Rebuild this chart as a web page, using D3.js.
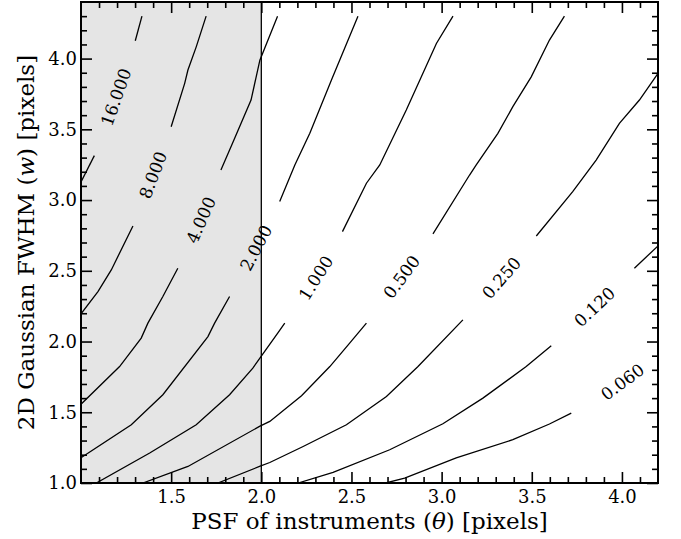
<!DOCTYPE html>
<html>
<head>
<meta charset="utf-8">
<script src="https://cdn.jsdelivr.net/npm/d3@7"></script>
<style>
  body { margin: 0; background: #fff; }
  svg text { font-family: "DejaVu Serif", serif; fill: #000; }
  .contour { fill: none; stroke: #000; stroke-width: 1.3; }
</style>
</head>
<body>
<script>
// axis limits and ticks
const xLimits = [1.0, 4.2];
const yLimits = [1.0, 4.4];
const xTicks = [1.5, 2.0, 2.5, 3.0, 3.5, 4.0];
const yTicks = [1.0, 1.5, 2.0, 2.5, 3.0, 3.5, 4.0];
const shadeEnd = 2.0; // grey band runs from the left edge up to here

// contour levels and where each inline label sits (data coords)
const levels = ["16.000", "8.000", "4.000", "2.000", "1.000", "0.500", "0.250", "0.120", "0.060"];
const labelX = [1.194, 1.399, 1.665, 1.970, 2.302, 2.778, 3.332, 3.848, 4.003];
const labelY = [3.728, 3.177, 2.859, 2.662, 2.450, 2.457, 2.450, 2.245, 1.715];

// contours, [theta, w] pairs.
// piece 1 ends where the label starts, piece 2 picks up after it
const c16 = [[[1.338, 4.30], [1.301, 4.126]],
             [[1.074, 3.314], [1.0, 3.128]]];
const c8 = [[[1.694, 4.30], [1.639, 4.083], [1.593, 3.919], [1.575, 3.825], [1.500, 3.518]],
            [[1.288, 2.817], [1.168, 2.506], [1.094, 2.353], [1.0, 2.196]]];
const c4 = [[[2.090, 4.30], [1.992, 3.989], [1.943, 3.707], [1.848, 3.424], [1.776, 3.213]],
            [[1.537, 2.518], [1.454, 2.318], [1.371, 2.130], [1.334, 2.024], [1.214, 1.823], [1.0, 1.557]]];
const c2 = [[[2.536, 4.30], [2.389, 3.848], [2.269, 3.472], [2.186, 3.248], [2.102, 2.989]],
            [[1.824, 2.318], [1.741, 2.130], [1.704, 2.035], [1.454, 1.624], [1.279, 1.412], [1.0, 1.179]]];
const c1 = [[[3.063, 4.30], [2.971, 4.107], [2.804, 3.636], [2.657, 3.248], [2.583, 3.119], [2.450, 2.777]],
            [[2.130, 2.130], [2.091, 2.059], [1.997, 1.892], [1.953, 1.812], [1.824, 1.624], [1.639, 1.412],
             [1.381, 1.212], [1.085, 1.0]]];
const c05 = [[[3.681, 4.30], [3.598, 4.131], [3.497, 3.871], [3.395, 3.660], [3.312, 3.472], [3.192, 3.248],
              [3.155, 3.177], [2.952, 2.761]],
             [[2.583, 2.130], [2.490, 1.989], [2.380, 1.823], [2.223, 1.617], [2.047, 1.435], [1.990, 1.400],
              [1.593, 1.117], [1.343, 1.0]]];
const c025 = [[[4.2, 3.895], [4.097, 3.707], [3.986, 3.542], [3.857, 3.283], [3.727, 3.059], [3.525, 2.746]],
              [[3.118, 2.153], [2.869, 1.823], [2.694, 1.612], [2.472, 1.412], [2.232, 1.258], [2.047, 1.145],
               [1.990, 1.117], [1.759, 1.0]]];
const c012 = [[[4.2, 2.676], [4.069, 2.518]],
              [[3.608, 1.970], [3.469, 1.823], [3.229, 1.600], [3.007, 1.419], [2.712, 1.235], [2.398, 1.075],
               [2.204, 1.0]]];
const c006 = [[[2.690, 1.0], [2.795, 1.035], [3.081, 1.177], [3.395, 1.306], [3.598, 1.417], [3.719, 1.494]]];
const contours = [c16, c8, c4, c2, c1, c05, c025, c012, c006];

// dimensions
const W = 681, H = 539;
const margin = {top: 2, right: 23, bottom: 56, left: 81};
const width = W - margin.left - margin.right;
const height = H - margin.top - margin.bottom;

const svg = d3.select("body").append("svg")
    .attr("width", W)
    .attr("height", H);

const g = svg.append("g")
    .attr("transform", "translate(" + margin.left + "," + margin.top + ")");

const x = d3.scaleLinear().domain(xLimits).range([0, width]);
const y = d3.scaleLinear().domain(yLimits).range([height, 0]);

g.append("clipPath").attr("id", "plot-clip")
  .append("rect").attr("width", width).attr("height", height);

// shaded band + its right edge
g.append("rect")
    .attr("x", x(xLimits[0]))
    .attr("y", 0)
    .attr("width", x(shadeEnd) - x(xLimits[0]))
    .attr("height", height)
    .attr("fill", "#e5e5e5");
g.append("line")
    .attr("x1", x(shadeEnd)).attr("x2", x(shadeEnd))
    .attr("y1", 0).attr("y2", height)
    .attr("stroke", "#000").attr("stroke-width", 1.3);

// contour lines
const line = d3.line().x(d => x(d[0])).y(d => y(d[1]));
const lines = g.append("g").attr("clip-path", "url(#plot-clip)");
contours.forEach(function(c) {
    c.forEach(function(piece) {
        lines.append("path").attr("class", "contour").attr("d", line(piece));
    });
});

// angle (deg) of the screen segment p -> q
function angleOf(p, q) {
    return Math.atan2(y(q[1]) - y(p[1]), x(q[0]) - x(p[0])) * 180 / Math.PI;
}
function upright(a) {
    while (a > 90) a -= 180;
    while (a < -90) a += 180;
    return a;
}

// inline labels, turned along the contour
levels.forEach(function(lev, i) {
    const c = contours[i];
    const first = c[0];
    const p = first[first.length - 1];
    let rot;
    if (c.length > 1) {
        rot = angleOf(p, c[1][0]);
    } else {
        // no piece after the label: extend the bend of the last stretch
        const chord = angleOf(p, [labelX[i], labelY[i]]);
        rot = 2 * chord - angleOf(first[first.length - 2], p);
    }
    rot = upright(rot);
    g.append("text")
        .attr("transform", "translate(" + x(labelX[i]) + "," + y(labelY[i]) + ") rotate(" + rot + ")")
        .attr("text-anchor", "middle")
        .attr("dy", "0.36em")
        .attr("font-size", 17)
        .text(lev);
});

// ticks, all pointing inwards like matplotlib
const fmt = d3.format(".1f");
const near = (v, arr) => arr.some(t => Math.abs(t - v) < 1e-6);
const xMinor = d3.range(11, 42).map(v => v / 10).filter(v => !near(v, xTicks));
const yMinor = d3.range(11, 44).map(v => v / 10).filter(v => !near(v, yTicks));

function styleAxis(sel) {
    sel.select(".domain").remove();
    sel.attr("font-size", 18).attr("font-family", "DejaVu Serif");
    sel.selectAll("line").attr("stroke", "#000").attr("stroke-width", 1.6);
}

// bottom
g.append("g").attr("transform", "translate(0," + height + ")")
    .call(d3.axisBottom(x).tickValues(xTicks).tickFormat(fmt).tickSize(-11).tickSizeOuter(0).tickPadding(7))
    .call(styleAxis);
g.append("g").attr("transform", "translate(0," + height + ")")
    .call(d3.axisBottom(x).tickValues(xMinor).tickFormat("").tickSize(-6).tickSizeOuter(0))
    .call(styleAxis);
// top
g.append("g")
    .call(d3.axisTop(x).tickValues(xTicks).tickFormat("").tickSize(-11).tickSizeOuter(0))
    .call(styleAxis);
g.append("g")
    .call(d3.axisTop(x).tickValues(xMinor).tickFormat("").tickSize(-6).tickSizeOuter(0))
    .call(styleAxis);
// left
g.append("g")
    .call(d3.axisLeft(y).tickValues(yTicks).tickFormat(fmt).tickSize(-11).tickSizeOuter(0).tickPadding(4))
    .call(styleAxis);
g.append("g")
    .call(d3.axisLeft(y).tickValues(yMinor).tickFormat("").tickSize(-6).tickSizeOuter(0))
    .call(styleAxis);
// right
g.append("g").attr("transform", "translate(" + width + ",0)")
    .call(d3.axisRight(y).tickValues(yTicks).tickFormat("").tickSize(-11).tickSizeOuter(0))
    .call(styleAxis);
g.append("g").attr("transform", "translate(" + width + ",0)")
    .call(d3.axisRight(y).tickValues(yMinor).tickFormat("").tickSize(-6).tickSizeOuter(0))
    .call(styleAxis);

// frame
g.append("rect")
    .attr("width", width).attr("height", height)
    .attr("fill", "none").attr("stroke", "#000").attr("stroke-width", 2);

// axis titles
const xt = svg.append("text")
    .attr("x", margin.left + width / 2)
    .attr("y", H - 10)
    .attr("text-anchor", "middle")
    .attr("font-size", 23);
xt.append("tspan").text("PSF of instruments (");
xt.append("tspan").attr("font-style", "italic").text("θ");
xt.append("tspan").text(") [pixels]");

const yt = svg.append("text")
    .attr("transform", "translate(" + 34 + "," + (margin.top + height / 2) + ") rotate(-90)")
    .attr("text-anchor", "middle")
    .attr("font-size", 23);
yt.append("tspan").text("2D Gaussian FWHM (");
yt.append("tspan").attr("font-style", "italic").text("w");
yt.append("tspan").text(") [pixels]");
</script>
</body>
</html>
